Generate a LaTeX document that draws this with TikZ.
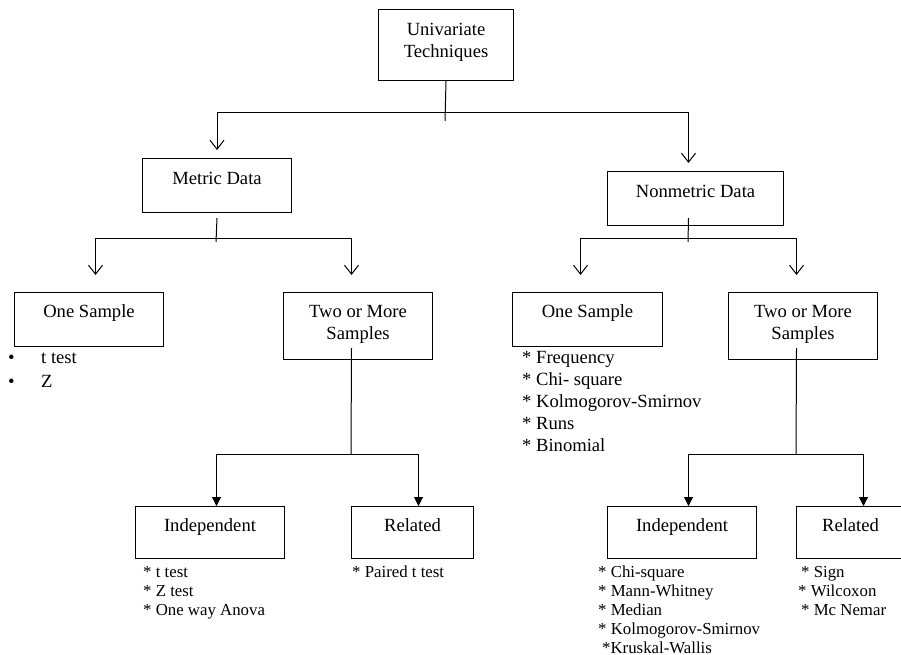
\documentclass[tikz,border=0pt]{standalone}
\usepackage{fontspec}
\setmainfont{Liberation Serif}
\usetikzlibrary{arrows.meta}

\newcommand{\twolines}[2]{\begin{tabular}[t]{@{}c@{}}#1\\#2\end{tabular}}
\newcommand{\testlist}[1]{\begin{tabular}[t]{@{}l@{}}#1\end{tabular}}

\tikzset{
  box/.style={draw, line width=1pt, inner sep=0pt, anchor=north west, text height=26pt, text depth=28pt},
  link/.style={line width=1pt},
  open/.style={link, -{Straight Barb[length=9pt,width=14pt]}},
  shut/.style={link, -{Triangle[length=9pt,width=9pt]}},
  tests/.style={anchor=base west, inner sep=0pt}
}

\begin{document}
\begin{tikzpicture}[x=1pt, y=-1pt, font=\fontsize{18.6}{22}\selectfont]
    \useasboundingbox (0,0) rectangle (901,655);
    % Boxes
    \node[box, minimum width=135pt, text depth=45pt] (tech) at (378,9) {\twolines{Univariate}{Techniques}};
    \node[box, minimum width=149pt] (metric) at (142,158) {Metric Data};
    \node[box, minimum width=176pt] (nonmetric) at (607,171) {Nonmetric Data};
    \node[box, minimum width=149pt, text height=25pt, text depth=29pt] (oneM) at (14,292) {One Sample};
    \node[box, minimum width=149pt, text height=25pt, text depth=42pt] (twoM) at (283,292) {\twolines{Two or More}{Samples}};
    \node[box, minimum width=150pt, text height=25pt, text depth=29pt] (oneN) at (512,292) {One Sample};
    \node[box, minimum width=149pt, text height=25pt, text depth=42pt] (twoN) at (728,292) {\twolines{Two or More}{Samples}};
    \node[box, minimum width=149pt, text height=25pt, text depth=27pt] (indM) at (135,506) {Independent};
    \node[box, minimum width=122pt, text height=25pt, text depth=27pt] (relM) at (351,506) {Related};
    \node[box, minimum width=149pt, text height=25pt, text depth=27pt] (indN) at (607,506) {Independent\hspace{28pt}};
    \node[box, minimum width=108pt, text height=25pt, text depth=27pt] (relN) at (796,506) {Related};
    % Junctions
    \coordinate (techJ) at (445,113);
    \coordinate (metricJ) at (216,238);
    \coordinate (nonJ) at (688,238);
    \coordinate (twoMJ) at (351,454);
    \coordinate (twoNJ) at (796,454);
    % Univariate split
    \draw[link] (tech.south) -- ([yshift=-8pt]techJ);
    \draw[open, shorten >=8pt] (techJ) -| (metric.north);
    \draw[open, shorten >=8pt] (techJ) -| ([xshift=-7pt]nonmetric.north);
    % Metric split
    \draw[link] ([yshift=-5pt]metric.south) -- ([yshift=-4pt]metricJ);
    \draw[open, shorten >=17pt] (metricJ) -| ([xshift=6.5pt]oneM.north);
    \draw[open, shorten >=17pt] (metricJ) -| ([xshift=-6.5pt]twoM.north);
    % Nonmetric split
    \draw[link] ([xshift=-7pt, yshift=8pt]nonmetric.south) -- ([yshift=-4pt]nonJ);
    \draw[open, shorten >=17pt] (nonJ) -| ([xshift=-7pt]oneN.north);
    \draw[open, shorten >=17pt] (nonJ) -| ([xshift=-6.5pt]twoN.north);
    % Samples splits
    \draw[link] ([xshift=-6.5pt, yshift=12pt]twoM.south) -- (twoMJ);
    \draw[shut] (twoMJ) -| ([xshift=6.5pt]indM.north);
    \draw[shut] (twoMJ) -| ([xshift=6pt]relM.north);
    \draw[link] ([xshift=-6.5pt, yshift=12pt]twoN.south) -- (twoNJ);
    \draw[shut] (twoNJ) -| ([xshift=6.5pt]indN.north);
    \draw[shut] (twoNJ) -| ([xshift=13pt]relN.north);
    % Tests
    \node[tests, font=\fontsize{18.6}{24}\selectfont] (oneMtests) at (8,363)
      {\begin{tabular}[t]{@{}p{33pt}@{}l@{}}\textbullet & t test\\ \textbullet & Z\end{tabular}};
    \node[tests] (oneNtests) at (522,363)
      {\testlist{{*} Frequency\\{*} Chi- square\\{*} Kolmogorov-Smirnov\\{*} Runs\\{*} Binomial}};
    \node[tests, font=\fontsize{16.8}{19.3}\selectfont] (indMtests) at (143,577)
      {\testlist{{*} t test\\{*} Z test\\{*} One way Anova}};
    \node[tests, font=\fontsize{16.8}{19.3}\selectfont] (relMtests) at (352,577)
      {\testlist{{*} Paired t test}};
    \node[tests, font=\fontsize{16.8}{19}\selectfont] (indNtests) at (598,577)
      {\testlist{{*} Chi-square\\{*} Mann-Whitney\\{*} Median\\{*} Kolmogorov-Smirnov\\\hspace{4pt}{*}Kruskal-Wallis}};
    \node[tests, font=\fontsize{16.8}{19}\selectfont] (relNtests) at (798,577)
      {\testlist{\hspace{3pt}{*} Sign\\{*} Wilcoxon\\\hspace{3pt}{*} Mc Nemar}};
\end{tikzpicture}
\end{document}
